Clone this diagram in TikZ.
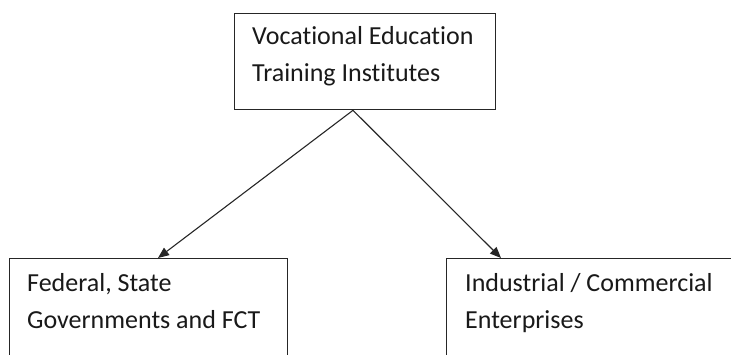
\documentclass[tikz,border=0pt]{standalone}
\usepackage{fontspec}
\setmainfont{Carlito}[Ligatures=NoCommon]
\usetikzlibrary{arrows.meta,calc}
\begin{document}
\begin{tikzpicture}[x=1pt,y=-1pt,
  boxstyle/.style={draw=black!85, line width=1.3pt, fill=white, inner sep=0pt, anchor=north west},
  txt/.style={anchor=base west, inner sep=0pt, font=\fontsize{26}{37}\selectfont, text=black!90},
  conn/.style={draw=black!85, line width=1.1pt, -{Triangle[length=11pt,width=9pt]}}]
\useasboundingbox (0,0) rectangle (731,355);
\clip (0,0) rectangle (731,355);
\node[boxstyle, minimum width=261pt, minimum height=96pt] (top) at (234,13) {};
\node[boxstyle, minimum width=278pt, minimum height=130pt] (fed) at (9,258) {};
\node[boxstyle, minimum width=300pt, minimum height=130pt] (ind) at (446,258) {};
\node[txt] (t1) at (252,45) {Vocational Education};
\node[txt] (t2) at (252,82) {Training Institutes};
\node[txt] (f1) at (27,292) {Federal, State};
\node[txt] (f2) at (27,329) {Governments and FCT};
\node[txt] (i1) at (465,292) {Industrial / Commercial};
\node[txt] (i2) at (465,329) {Enterprises};
\coordinate (apex) at ($(top.south west)+(119,0)$);
\coordinate (fedtip) at ($(fed.north west)+(149,0)$);
\coordinate (indtip) at ($(ind.north west)+(55,0)$);
\draw[conn] (apex) -- (fedtip);
\draw[conn] (apex) -- (indtip);
\end{tikzpicture}
\end{document}
